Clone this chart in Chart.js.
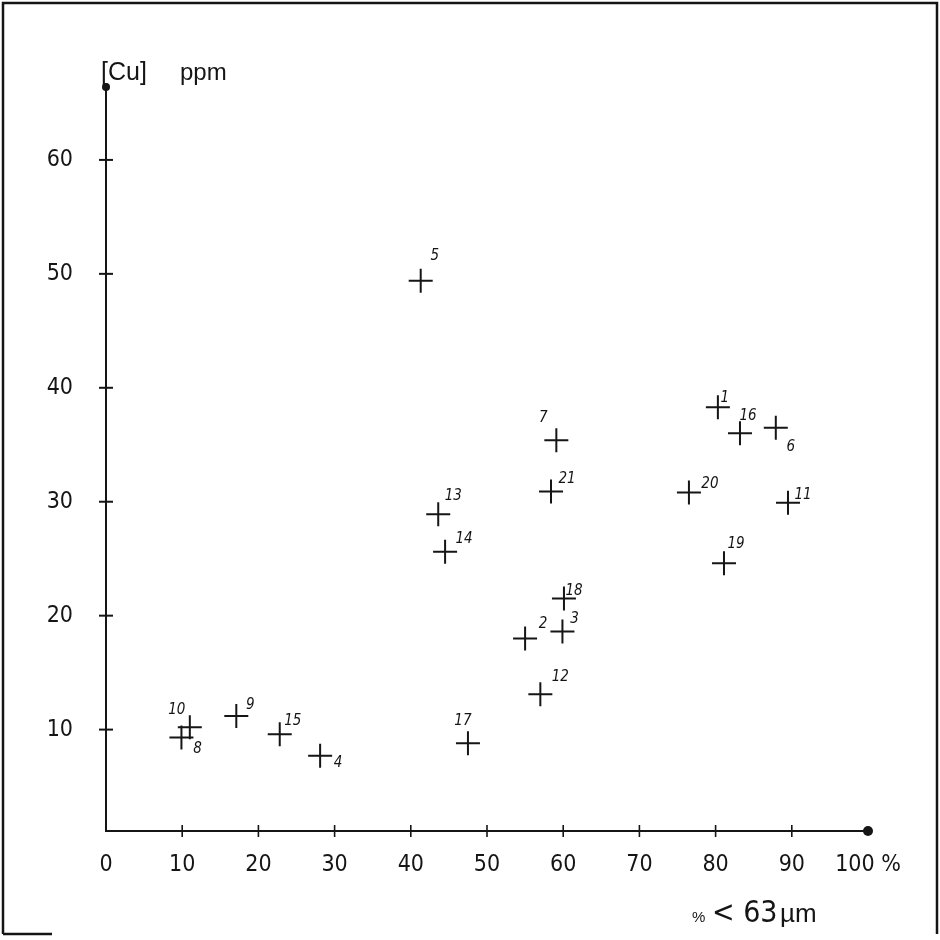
<!DOCTYPE html>
<html>
<head>
<meta charset="utf-8">
<script src="https://cdn.jsdelivr.net/npm/chart.js@4.4.1/dist/chart.umd.min.js"></script>
<style>
  html, body { margin: 0; padding: 0; background: #fff; }
  #wrap { width: 940px; height: 940px; }
</style>
</head>
<body>
<div id="wrap"><canvas id="canvas" width="940" height="940"></canvas></div>
<script>
// sample numbers, % of grains < 63 µm, copper content in ppm
const sampleIds = ['1', '2', '3', '4', '5', '6', '7', '8', '9', '10', '11',
                   '12', '13', '14', '15', '16', '17', '18', '19', '20', '21'];
const finePercent = [80.3, 55.0, 59.9, 28.1, 41.3, 87.9, 59.1, 9.9, 17.1, 11.0, 89.5,
                     57.0, 43.6, 44.5, 22.8, 83.2, 47.5, 60.1, 81.1, 76.5, 58.4];
const copperPpm = [38.3, 18.0, 18.6, 7.7, 49.4, 36.5, 35.4, 9.3, 11.2, 10.2, 29.9,
                   13.1, 28.9, 25.6, 9.6, 36.0, 8.8, 21.5, 24.6, 30.8, 30.9];
const xTicks = [0, 10, 20, 30, 40, 50, 60, 70, 80, 90, 100];
const yTicks = [10, 20, 30, 40, 50, 60];

// where each hand-written number sits relative to its cross (px)
const labelOffset = {
  '1': [7, -9], '2': [18, -14], '3': [12, -13], '4': [18, 7], '5': [14, -25],
  '6': [15, 19], '7': [-13, -22], '8': [16, 12], '9': [14, -11], '10': [-13, -17],
  '11': [15, -8], '12': [20, -17], '13': [15, -18], '14': [19, -13], '15': [13, -13],
  '16': [8, -17], '17': [-5, -22], '18': [10, -7], '19': [12, -19], '20': [21, -9],
  '21': [16, -12]
};

const ink = '#151515';
const tickFont = { family: "'Liberation Sans Narrow', 'DejaVu Sans Condensed', sans-serif", size: 23 };

const points = sampleIds.map(function (id, i) {
  return { x: finePercent[i], y: copperPpm[i], id: id };
});

const decor = {
  id: 'decor',
  afterDraw: function (chart) {
    const ctx = chart.ctx;
    const xs = chart.scales.x;
    const ys = chart.scales.y;
    const a = chart.chartArea;
    ctx.save();
    ctx.strokeStyle = ink;
    ctx.fillStyle = ink;

    // tick marks crossing the axes
    ctx.lineWidth = 1.6;
    xTicks.forEach(function (v) {
      if (v === 0 || v === 100) return;
      const px = xs.getPixelForValue(v);
      ctx.beginPath();
      ctx.moveTo(px, a.bottom - 6);
      ctx.lineTo(px, a.bottom + 6);
      ctx.stroke();
    });
    ctx.lineWidth = 2;
    yTicks.forEach(function (v) {
      const py = ys.getPixelForValue(v);
      ctx.beginPath();
      ctx.moveTo(a.left - 7, py);
      ctx.lineTo(a.left + 7, py);
      ctx.stroke();
    });

    // dots at the axis ends
    ctx.beginPath();
    ctx.arc(a.left, a.top, 4, 0, Math.PI * 2);
    ctx.fill();
    ctx.beginPath();
    ctx.arc(a.right, a.bottom, 5, 0, Math.PI * 2);
    ctx.fill();

    // sample numbers
    ctx.font = "italic 15px 'DejaVu Sans Condensed', sans-serif";
    ctx.textAlign = 'center';
    ctx.textBaseline = 'middle';
    points.forEach(function (p) {
      const off = labelOffset[p.id] || [12, -12];
      ctx.fillText(p.id, xs.getPixelForValue(p.x) + off[0], ys.getPixelForValue(p.y) + off[1]);
    });

    // axis titles
    ctx.textAlign = 'left';
    ctx.textBaseline = 'alphabetic';
    ctx.font = "25px 'Liberation Sans', sans-serif";
    ctx.fillText('[Cu]', 101, 80);
    ctx.font = "24px 'Liberation Sans', sans-serif";
    ctx.fillText('ppm', 180, 80);
    ctx.font = "15px 'Liberation Sans', sans-serif";
    ctx.fillText('%', 692, 922);
    ctx.font = "30px 'Liberation Sans Narrow', 'DejaVu Sans Condensed', sans-serif";
    ctx.fillText('< 63', 712, 922);
    ctx.font = "26px 'Liberation Sans', sans-serif";
    ctx.fillText('\u00b5m', 780, 922);

    // page frame
    ctx.lineWidth = 2.5;
    ctx.beginPath();
    ctx.moveTo(3, 934);
    ctx.lineTo(3, 3);
    ctx.lineTo(937, 3);
    ctx.lineTo(937, 934);
    ctx.stroke();
    ctx.beginPath();
    ctx.moveTo(3, 934);
    ctx.lineTo(52, 934);
    ctx.stroke();
    ctx.restore();
  }
};

new Chart(document.getElementById('canvas'), {
  type: 'scatter',
  data: {
    datasets: [{
      label: '[Cu] ppm',
      data: points,
      pointStyle: 'cross',
      pointRadius: 12,
      pointBorderWidth: 2,
      borderColor: ink,
      backgroundColor: ink,
      showLine: false
    }]
  },
  options: {
    responsive: false,
    animation: false,
    devicePixelRatio: 1,
    layout: { padding: { top: 87, right: 72, left: 0, bottom: 0 } },
    plugins: {
      legend: { display: false },
      tooltip: { enabled: false }
    },
    scales: {
      x: {
        type: 'linear',
        min: 0,
        max: 100,
        afterBuildTicks: function (s) { s.ticks = xTicks.map(function (v) { return { value: v }; }); },
        afterFit: function (s) { s.height = 109; },
        grid: { display: false, drawTicks: false },
        border: { display: true, color: ink, width: 2 },
        ticks: {
          padding: 20,
          color: ink,
          font: tickFont,
          maxRotation: 0,
          callback: function (v) { return v === 100 ? '100 %' : String(v); }
        }
      },
      y: {
        type: 'linear',
        min: 1.1,
        max: 66.4,
        afterBuildTicks: function (s) { s.ticks = yTicks.map(function (v) { return { value: v }; }); },
        afterFit: function (s) { s.width = 106; },
        grid: { display: false, drawTicks: false },
        border: { display: true, color: ink, width: 2 },
        ticks: {
          padding: 33,
          color: ink,
          font: tickFont
        }
      }
    }
  },
  plugins: [decor]
});
</script>
</body>
</html>
